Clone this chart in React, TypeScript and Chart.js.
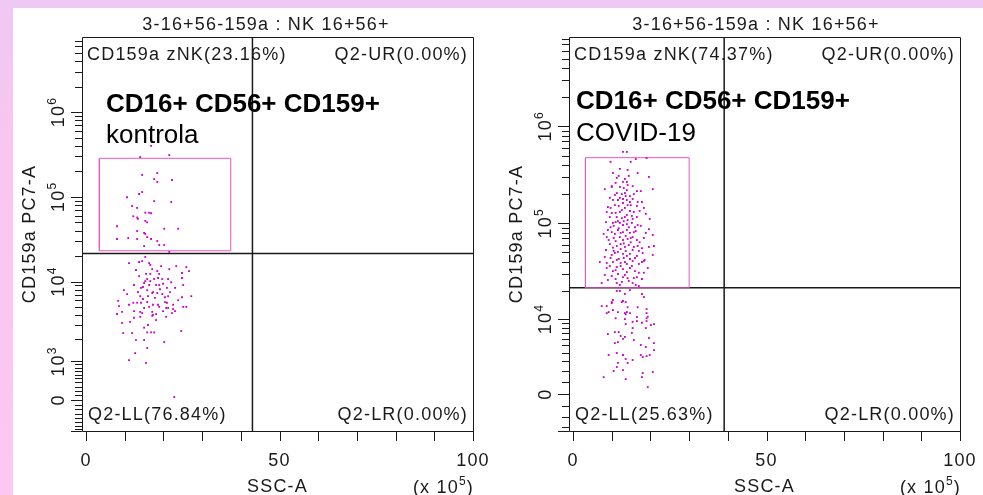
import React, { useEffect, useRef } from "react";
import { Chart, registerables } from "chart.js";

Chart.register(...registerables);

// ---------------- data (SSC-A in units of 10^5, CD159a PC7-A raw intensity) ----------------
const controlSSC = [
  16.8, 14.0, 21.5, 14.5, 18.4, 17.6, 18.4, 22.2, 14.5, 13.7, 10.6, 17.6, 22.0, 11.9, 13.2, 15.3, 16.3, 16.8, 12.2, 13.2,
  13.4, 15.3, 15.8, 8.0, 20.2, 23.8, 13.2, 15.0, 15.3, 8.0, 10.9, 13.2, 15.8, 16.8, 18.4, 18.9, 20.2, 15.0, 21.5,
  15.3, 14.5, 16.3, 16.6, 11.1, 17.1, 18.4, 23.3, 25.9, 26.6, 21.5, 24.8, 15.5, 16.6, 18.9, 15.8, 15.3, 17.6, 19.7, 21.2, 24.8,
  12.4, 15.0, 16.3, 18.9, 19.9, 18.1, 25.1, 14.2, 15.8, 17.3, 20.9, 21.7, 10.6, 14.0, 17.1, 18.4, 19.7, 21.2, 27.2, 14.7,
  15.8, 20.4, 20.9, 8.3, 24.8, 12.2, 13.2, 14.2, 17.3, 18.6, 22.5, 20.7, 15.0, 16.3, 8.0, 9.3, 12.4, 14.0, 14.5, 17.1,
  18.1, 22.2, 23.0, 25.1, 12.4, 8.5, 18.9, 21.2, 22.5, 25.9, 17.1, 20.7, 11.4, 14.0, 17.3, 9.3, 9.6, 11.9, 15.0, 15.8,
  16.8, 17.6, 24.6, 12.9, 15.0, 20.2, 15.8, 12.7, 11.1, 15.5, 22.8,
  13.7, 14.7, 16.0, 17.8, 19.1, 16.6, 13.4, 18.6, 20.4, 12.9, 19.4, 23.0, 11.1, 9.8, 23.8, 18.1, 16.0, 19.9, 13.7, 22.0,
];
const controlCD159a = [
  400000, 295000, 311000, 181000, 191000, 162000, 150000, 158000, 114000, 108000, 99000, 89000, 87000, 78000, 74000, 65000, 65000, 64000, 59000, 57000,
  55000, 52000, 50000, 45000, 42000, 42000, 39500, 37500, 36500, 31800, 32700, 31800, 33500, 31800, 30100, 27000, 27000, 26300, 22400,
  19500, 17400, 16500, 15700, 16500, 14000, 13300, 15200, 14800, 13300, 14000, 12600, 12300, 12300, 12300, 10700, 10100, 10700, 10700, 10700, 11000,
  9100, 9600, 9100, 9100, 9400, 9100, 9100, 8400, 7900, 7500, 8400, 7500, 7100, 6700, 7300, 7300, 7100, 6700, 6700, 6200,
  5700, 5700, 5600, 5900, 6500, 5600, 5600, 5600, 5300, 5300, 5300, 4850, 4850, 5000, 4100, 4350, 4450, 4350, 4200, 4350,
  4100, 4200, 4450, 5000, 3700, 5100, 5000, 4850, 4700, 5000, 3900, 3800, 3300, 3800, 4000, 3200, 2400, 2400, 2800, 2450,
  2450, 2450, 2550, 1960, 1960, 1850, 1550, 1320, 1050, 950, 65,
  11600, 8600, 6700, 6400, 8100, 10100, 7500, 11000, 6500, 13700, 15200, 8400, 5300, 7900, 6000, 3470, 3020, 4450, 17000, 9800,
];

const covidSSC = [
  12.9, 13.9, 9.7, 14.9, 16.2, 19.0, 12.1, 11.3, 14.1, 16.7, 19.6, 10.3, 12.9, 13.9, 14.4, 13.4, 11.0, 10.0, 12.1, 14.1,
  8.2, 13.9, 16.5, 17.5, 20.6, 11.3, 12.6, 13.4, 14.7, 9.5, 10.3, 12.1, 12.9, 13.9, 14.7, 15.4, 16.7, 17.8, 9.0, 10.8,
  11.8, 12.9, 14.1, 16.5, 8.7, 10.0, 11.0, 12.6, 13.4, 14.7, 15.7, 17.2, 18.8, 9.5, 11.3, 12.6, 13.4, 14.1, 15.4, 16.5,
  8.5, 10.3, 11.0, 12.1, 12.9, 13.9, 15.2, 16.0, 16.7, 9.0, 10.0, 11.6, 12.9, 13.9, 14.7, 15.7, 19.6, 20.6, 8.7, 10.5,
  12.1, 12.9, 14.1, 15.4, 16.5, 18.3, 9.5, 10.3, 11.3, 12.3, 13.4, 14.4, 15.7, 16.7, 17.8, 19.6, 20.9, 8.2, 10.0, 10.8,
  11.6, 12.9, 13.9, 14.7, 16.5, 18.0, 20.6, 6.9, 8.7, 10.3, 11.3, 12.3, 13.4, 13.9, 15.4, 17.0, 17.8, 18.5, 8.7, 10.3,
  11.3, 12.9, 14.7, 16.0, 17.0, 18.3, 10.0, 11.0, 12.9, 14.1, 16.5, 17.8, 7.4, 11.3, 12.6, 15.4, 17.0, 11.3, 12.1, 14.7,
  17.8, 18.3, 13.4, 10.3, 10.0, 12.6, 8.7, 14.1, 16.7, 9.2, 11.6, 13.9, 14.7, 19.0, 11.0, 13.4, 19.0, 16.5, 7.4, 10.0,
  12.9, 13.6, 8.7, 10.3, 13.4, 13.6, 19.0, 19.3, 15.4, 16.5, 17.8, 19.0, 20.1, 20.9, 13.6,
  9.0, 10.8, 11.8, 12.3, 13.4, 12.9, 15.2, 15.4, 18.8, 15.7, 19.6, 17.5, 18.8, 20.9, 20.9, 10.8, 11.6, 9.2, 11.3, 12.9,
  13.6, 11.6, 14.1, 15.4, 17.5, 18.0, 19.0, 19.8, 11.3, 12.9, 10.5, 18.0, 17.8, 20.6, 7.9, 13.6, 19.3,
  10.8, 11.6, 13.6, 14.9, 9.7, 12.1, 13.9, 15.2, 10.5, 11.8, 13.1, 14.4, 16.2, 9.2, 11.0, 13.1, 14.9, 17.2, 8.5, 10.5,
  12.3, 13.6, 15.4, 17.0, 9.7, 11.8, 13.1, 14.7, 16.0, 9.5, 11.0, 12.3, 13.9, 15.2, 11.6, 13.4, 15.7, 9.0, 14.4, 12.1,
  10.0, 15.4, 13.1, 11.8, 15.7, 18.3, 19.8, 7.9, 17.5, 18.8, 10.8, 12.3, 13.6, 14.9, 11.6, 9.7, 18.3, 19.3, 8.2, 16.2,
];
const covidCD159a = [
  545000, 545000, 430000, 430000, 460000, 470000, 364000, 294000, 355000, 330000, 301000, 330000, 267000, 267000, 308000, 287000, 261000, 237000, 237000, 248000,
  225000, 220000, 215000, 215000, 225000, 205000, 200000, 205000, 191000, 183000, 174000, 183000, 178000, 174000, 166000, 178000, 166000, 166000, 147000, 154000,
  151000, 162000, 154000, 151000, 131000, 128000, 128000, 137000, 144000, 134000, 131000, 134000, 125000, 116000, 116000, 113000, 116000, 108000, 111000, 116000,
  103000, 101000, 103000, 101000, 96000, 98000, 101000, 91000, 96000, 85300, 81000, 85300, 81000, 85300, 79500, 81000, 87000, 75700, 72000, 70500,
  72000, 67200, 68900, 72000, 67200, 70500, 61000, 56000, 58300, 61000, 57000, 59600, 57000, 58300, 55500, 57000, 58300, 45000, 47100, 49400,
  50600, 48300, 46000, 48300, 46000, 49400, 47100, 39800, 38900, 39800, 41800, 38900, 39800, 38000, 40800, 38000, 39800, 41800, 34500, 32000,
  35300, 33600, 34500, 32000, 30800, 30800, 28500, 26500, 27700, 27100, 27700, 26500, 24100, 24100, 24700, 24100, 22400, 19900, 19900, 20300,
  18500, 17200, 18500, 16000, 14800, 15200, 13800, 13400, 13400, 11900, 11900, 11900, 11600, 11600, 10200, 10000, 10200, 10500, 13800, 15200,
  15600, 15200, 11600, 12500, 11600, 11300, 12800, 10600, 9300, 9500, 9100, 9500, 8600, 8800, 8800,
  6800, 7150, 7150, 6450, 6280, 5950, 7000, 7950, 7950, 5780, 6100, 5010, 4730, 5300, 4310, 5300, 5450, 3690, 3940, 3690,
  3230, 2800, 2800, 3120, 3690, 3460, 3570, 3690, 2380, 2080, 1990, 1800, 1430, 1900, 1430, 1260, 570,
  196000, 174000, 191000, 154000, 144000, 131000, 122000, 119000, 94000, 89000, 105000, 91000, 83000, 67200, 65500, 62000, 63700, 63700, 53000, 51800,
  54200, 51800, 53000, 51800, 43800, 42800, 43800, 42800, 43800, 36200, 32800, 36200, 31300, 36200, 29900, 29200, 27100, 25900, 25300, 23000,
  242000, 242000, 231000, 308000, 200000, 144000, 111000, 77600, 94000, 79500, 77600, 79500, 74000, 70500, 105000, 91000, 40800, 34500, 29200, 23000,
];

const panelTitles = ["3-16+56-159a : NK 16+56+", "3-16+56-159a : NK 16+56+"];
const populationLabel = "CD16+ CD56+ CD159+";
const groupLabels = ["kontrola", "COVID-19"];
const ulLabels = ["CD159a zNK(23.16%)", "CD159a zNK(74.37%)"];
const urLabels = ["Q2-UR(0.00%)", "Q2-UR(0.00%)"];
const llLabels = ["Q2-LL(76.84%)", "Q2-LL(25.63%)"];
const lrLabels = ["Q2-LR(0.00%)", "Q2-LR(0.00%)"];
const xAxisTitle = "SSC-A";
const yAxisTitle = "CD159a PC7-A";
const xUnitLabel = ["(x 10", "5", ")"];
const xTickValues = [0, 10, 20, 30, 40, 50, 60, 70, 80, 90, 100];
const xLabelValues = [0, 50, 100];
const yLabelDecades = [[3, 4, 5, 6], [4, 5, 6]];
const yMinorFirstDecade = [2, 3];
const yNegativeTicks = [[-100, -200, -300, -400, -500, -600, -700], [-1000, -2000, -3000]];
const quadrantSSC = [43.0, 39.05];
const quadrantCD159a = [21500, 21500];
const gateSSC = [[3.44, 37.4], [3.2, 30.0]];
const gateCD159a = [[23100, 285000], [21500, 475000]];
const asinhCofactor = [800, 3467];
const cd159aRange = [[-756, 7.7e6], [-3450, 8.35e6]];
const sscRange = [-1.05, 100];

// ---------------- layout / style ----------------
const FONT = '"Liberation Sans", Arial, Helvetica, sans-serif';
const INK = "#1a1a1a";
const DOT = "#cc00cc";
const GATE = "#ee55c0";
const PANELS = [
  { left: 0, width: 490, pad: { left: 82, right: 17, top: 37, bottom: 64 }, titleX: 266, bigX: 106, bigY: 112, subY: 143 },
  { left: 490, width: 493, pad: { left: 79, right: 23, top: 37, bottom: 64 }, titleX: 266, bigX: 86, bigY: 109, subY: 141 },
];

function yTicks(i: number) {
  const out: { v: number; major: boolean }[] = [{ v: 0, major: true }];
  for (const v of yNegativeTicks[i]) out.push({ v, major: false });
  for (let n = yMinorFirstDecade[i]; n <= 7; n++) {
    for (let k = 1; k <= 9; k++) {
      const v = k * Math.pow(10, n);
      if (v > cd159aRange[i][1]) break;
      out.push({ v, major: k === 1 && yLabelDecades[i].includes(n) });
    }
  }
  return out;
}

function setSpacing(ctx: any, s: string) {
  if ("letterSpacing" in ctx) ctx.letterSpacing = s;
}

function decorPlugin(i: number) {
  return {
    id: "flowDecor" + i,
    afterDraw(chart: any) {
      const ctx: CanvasRenderingContext2D = chart.ctx;
      const { left: L, right: R, top: T, bottom: B } = chart.chartArea;
      const xs = chart.scales.x;
      const ys = chart.scales.y;
      const c = asinhCofactor[i];
      const P = PANELS[i];
      const yPx = (v: number) => ys.getPixelForValue(Math.asinh(v / c));
      const s = (v: number) => Math.round(v) + 0.5;

      ctx.save();
      ctx.strokeStyle = INK;
      ctx.fillStyle = INK;
      ctx.lineWidth = 1;
      ctx.beginPath();
      ctx.rect(s(L), s(T), Math.round(R) - Math.round(L), Math.round(B) - Math.round(T));
      ctx.moveTo(Math.round(L) - 11, s(B));
      ctx.lineTo(Math.round(L), s(B));
      for (const v of xTickValues) {
        const px = s(xs.getPixelForValue(v));
        ctx.moveTo(px, B);
        ctx.lineTo(px, B + 10);
      }
      for (const t of yTicks(i)) {
        const py = s(yPx(t.v));
        ctx.moveTo(Math.round(L) - (t.major ? 11 : 7), py);
        ctx.lineTo(Math.round(L), py);
      }
      ctx.stroke();

      setSpacing(ctx, "1.2px");
      ctx.textBaseline = "alphabetic";

      // x tick labels
      ctx.font = `18px ${FONT}`;
      ctx.textAlign = "center";
      for (const v of xLabelValues) ctx.fillText(String(v), xs.getPixelForValue(v), B + 35);
      ctx.fillText(xAxisTitle, (L + R) / 2, B + 61);

      // x unit "(x 10^5)"
      ctx.textAlign = "left";
      ctx.font = `18px ${FONT}`;
      const w1 = ctx.measureText(xUnitLabel[0]).width;
      const w3 = ctx.measureText(xUnitLabel[2]).width;
      ctx.font = `12px ${FONT}`;
      const w2 = ctx.measureText(xUnitLabel[1]).width;
      const ux = R - (w1 + w2 + w3) + 1;
      ctx.font = `18px ${FONT}`;
      ctx.fillText(xUnitLabel[0], ux, B + 62);
      ctx.fillText(xUnitLabel[2], ux + w1 + w2, B + 62);
      ctx.font = `12px ${FONT}`;
      ctx.fillText(xUnitLabel[1], ux + w1, B + 54);

      // y tick labels (rotated)
      const drawYLabel = (exp: number | null, py: number) => {
        ctx.save();
        ctx.translate(L - 18, py);
        ctx.rotate(-Math.PI / 2);
        ctx.textAlign = "left";
        ctx.font = `18px ${FONT}`;
        if (exp === null) {
          const w = ctx.measureText("0").width;
          ctx.fillText("0", -w / 2, 0);
        } else {
          const a = ctx.measureText("10").width;
          ctx.font = `12px ${FONT}`;
          const b = ctx.measureText(String(exp)).width;
          const x0 = -(a + b) / 2;
          ctx.font = `18px ${FONT}`;
          ctx.fillText("10", x0, 0);
          ctx.font = `12px ${FONT}`;
          ctx.fillText(String(exp), x0 + a, -8);
        }
        ctx.restore();
      };
      drawYLabel(null, yPx(0));
      for (const n of yLabelDecades[i]) drawYLabel(n, yPx(Math.pow(10, n)));

      // y axis title
      ctx.save();
      ctx.translate(L - 47, (T + B) / 2);
      ctx.rotate(-Math.PI / 2);
      ctx.textAlign = "center";
      ctx.font = `18px ${FONT}`;
      ctx.fillText(yAxisTitle, 0, 0);
      ctx.restore();

      // panel title
      ctx.textAlign = "center";
      ctx.font = `18px ${FONT}`;
      ctx.fillText(panelTitles[i], P.titleX, 30);

      // quadrant labels
      ctx.textAlign = "left";
      ctx.fillText(ulLabels[i], L + 5, T + 23);
      ctx.fillText(llLabels[i], L + 6, B - 11);
      ctx.textAlign = "right";
      ctx.fillText(urLabels[i], R - 5, T + 23);
      ctx.fillText(lrLabels[i], R - 5, B - 11);

      // big annotation
      setSpacing(ctx, "0px");
      ctx.textAlign = "left";
      ctx.font = `bold 26px ${FONT}`;
      ctx.fillStyle = "#000";
      ctx.fillText(populationLabel, P.bigX, P.bigY);
      ctx.font = `26px ${FONT}`;
      ctx.fillText(groupLabels[i], P.bigX, P.subY);
      ctx.restore();
    },
  };
}

function Panel({ index }: { index: number }) {
  const ref = useRef<HTMLCanvasElement | null>(null);
  useEffect(() => {
    const canvas = ref.current;
    if (!canvas) return;
    const c = asinhCofactor[index];
    const u = (v: number) => Math.asinh(v / c);
    const ssc = index === 0 ? controlSSC : covidSSC;
    const cd = index === 0 ? controlCD159a : covidCD159a;
    const n = Math.min(ssc.length, cd.length);
    const pts = [] as { x: number; y: number }[];
    for (let k = 0; k < n; k++) pts.push({ x: ssc[k], y: u(cd[k]) });
    const [gx0, gx1] = gateSSC[index];
    const [gy0, gy1] = gateCD159a[index];
    const yMin = u(cd159aRange[index][0]);
    const yMax = u(cd159aRange[index][1]);
    const qx = quadrantSSC[index];
    const qy = u(quadrantCD159a[index]);

    const chart = new Chart(canvas, {
      type: "scatter",
      data: {
        datasets: [
          {
            data: pts,
            pointStyle: "rect",
            pointRadius: 1.3,
            pointHoverRadius: 1.3,
            backgroundColor: DOT,
            borderWidth: 0,
          } as any,
          {
            data: [
              { x: gx0, y: u(gy0) },
              { x: gx1, y: u(gy0) },
              { x: gx1, y: u(gy1) },
              { x: gx0, y: u(gy1) },
              { x: gx0, y: u(gy0) },
            ],
            showLine: true,
            borderColor: GATE,
            borderWidth: 1,
            pointRadius: 0,
            fill: false,
          } as any,
          {
            data: [
              { x: qx, y: yMin },
              { x: qx, y: yMax },
            ],
            showLine: true,
            borderColor: INK,
            borderWidth: 1.5,
            pointRadius: 0,
          } as any,
          {
            data: [
              { x: sscRange[0], y: qy },
              { x: sscRange[1], y: qy },
            ],
            showLine: true,
            borderColor: INK,
            borderWidth: 1.5,
            pointRadius: 0,
          } as any,
        ],
      },
      options: {
        animation: false,
        responsive: false,
        devicePixelRatio: 1,
        events: [],
        layout: { padding: PANELS[index].pad },
        plugins: { legend: { display: false }, tooltip: { enabled: false }, title: { display: false } },
        scales: {
          x: { type: "linear", display: false, min: sscRange[0], max: sscRange[1] },
          y: { type: "linear", display: false, min: yMin, max: yMax },
        },
      } as any,
      plugins: [decorPlugin(index)],
    });
    return () => chart.destroy();
  }, [index]);
  const P = PANELS[index];
  return (
    <canvas
      ref={ref}
      width={P.width}
      height={495}
      style={{ position: "absolute", left: P.left, top: 0, width: P.width, height: 495 }}
    />
  );
}

export default function App() {
  return (
    <div
      style={{
        position: "fixed",
        left: 0,
        top: 0,
        width: 983,
        height: 495,
        background: "#ffffff",
        overflow: "hidden",
      }}
    >
      <div
        style={{
          position: "absolute",
          left: 0,
          top: 0,
          width: 13,
          height: 495,
          background: "linear-gradient(#eec9f3, #f9c6ef 30%, #fcc8f1)",
        }}
      />
      <div style={{ position: "absolute", left: 0, top: 0, width: 983, height: 8, background: "#eec9f3" }} />
      <Panel index={0} />
      <Panel index={1} />
    </div>
  );
}
